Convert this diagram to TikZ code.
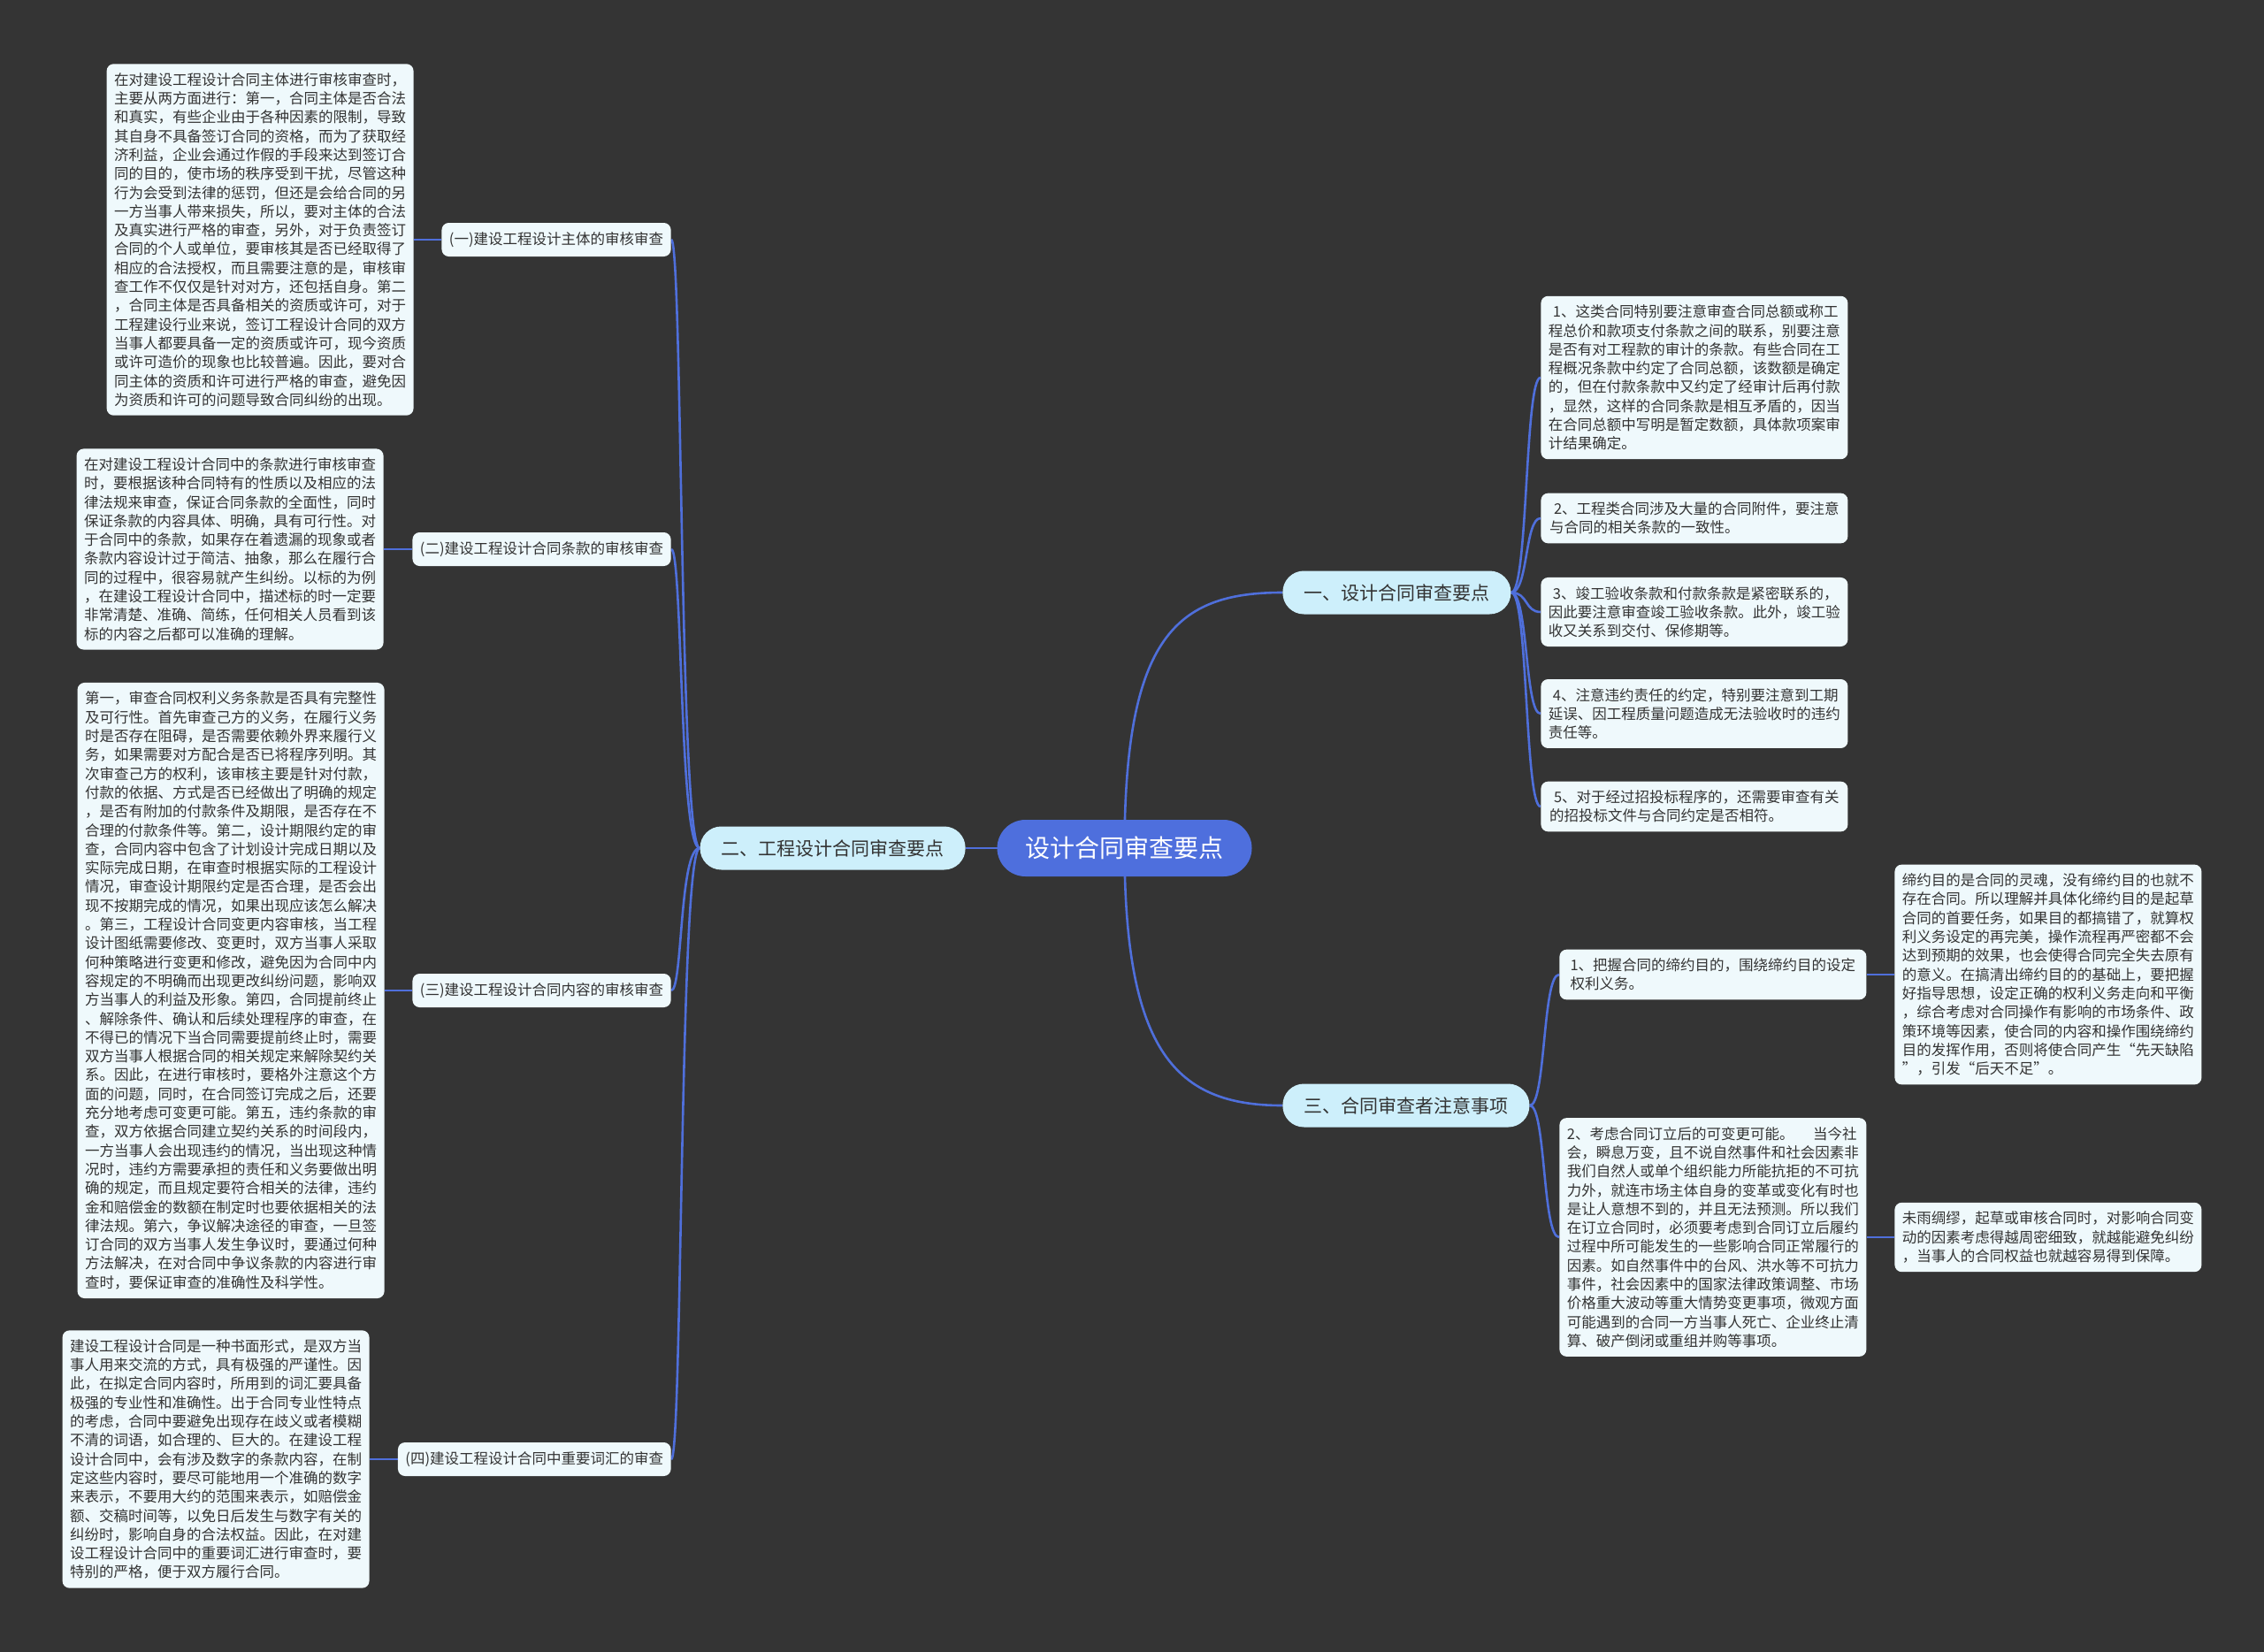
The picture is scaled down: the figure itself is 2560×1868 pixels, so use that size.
\documentclass[tikz,border=0pt]{standalone}
\usepackage{fontspec}
\setmainfont{Noto Sans CJK SC}
\pgfdeclarelayer{bgl}
\pgfdeclarelayer{edgel}
\pgfsetlayers{bgl,edgel,main}
\definecolor{bgc}{HTML}{343434}
\definecolor{rootc}{HTML}{4E6FDD}
\definecolor{lonec}{HTML}{CDEFFB}
\definecolor{boxc}{HTML}{EFF9FC}
\definecolor{txtc}{HTML}{333333}
\definecolor{linec}{HTML}{4F6FDB}
\tikzset{
  leaf/.style={fill=boxc, rounded corners=4pt, align=left, text=txtc,
    font=\fontsize{8.25pt}{10.65pt}\selectfont, inner xsep=4.25pt, inner ysep=5pt,
    minimum width=173.5pt},
  sublabel/.style={fill=boxc, rounded corners=4pt, text=txtc,
    font=\fontsize{8.25pt}{10.65pt}\selectfont, inner xsep=4.25pt, inner ysep=2pt,
    minimum height=19pt},
  lvlone/.style={fill=lonec, rounded corners=12pt, text=txtc,
    font=\fontsize{10.5pt}{12pt}\selectfont, inner xsep=12pt, inner ysep=2pt,
    minimum height=24.5pt},
  rootnode/.style={fill=rootc, rounded corners=16pt, text=white,
    font=\fontsize{14pt}{16pt}\selectfont, inner xsep=16pt, inner ysep=2pt,
    minimum height=32pt},
  link/.style={draw=linec, line width=1.3pt},
}
\begin{document}
\begin{tikzpicture}[x=0.5pt,y=-0.5pt]
\begin{pgfonlayer}{bgl}
\fill[bgc] (0,0) rectangle (2560,1868);
\end{pgfonlayer}
\useasboundingbox (0,0) rectangle (2560,1868);

% root and level one
\node[rootnode] (root) at (1271.5,959) {设计合同审查要点};
\node[lvlone, anchor=east] (n2) at (1092,959) {二、工程设计合同审查要点};
\node[lvlone, anchor=west] (n1) at (1450,670) {一、设计合同审查要点};
\node[lvlone, anchor=west] (n3) at (1450,1250) {三、合同审查者注意事项};

% left labels
\node[sublabel, anchor=east] (a1) at (759,271) {(一)建设工程设计主体的审核审查};
\node[sublabel, anchor=east] (a2) at (759,621) {(二)建设工程设计合同条款的审核审查};
\node[sublabel, anchor=east] (a3) at (759,1120) {(三)建设工程设计合同内容的审核审查};
\node[sublabel, anchor=east] (a4) at (759,1650) {(四)建设工程设计合同中重要词汇的审查};

% left boxes
\node[leaf, anchor=east] (b1) at (468,271) {在对建设工程设计合同主体进行审核审查时，\\主要从两方面进行：第一，合同主体是否合法\\和真实，有些企业由于各种因素的限制，导致\\其自身不具备签订合同的资格，而为了获取经\\济利益，企业会通过作假的手段来达到签订合\\同的目的，使市场的秩序受到干扰，尽管这种\\行为会受到法律的惩罚，但还是会给合同的另\\一方当事人带来损失，所以，要对主体的合法\\及真实进行严格的审查，另外，对于负责签订\\合同的个人或单位，要审核其是否已经取得了\\相应的合法授权，而且需要注意的是，审核审\\查工作不仅仅是针对对方，还包括自身。第二\\，合同主体是否具备相关的资质或许可，对于\\工程建设行业来说，签订工程设计合同的双方\\当事人都要具备一定的资质或许可，现今资质\\或许可造价的现象也比较普遍。因此，要对合\\同主体的资质和许可进行严格的审查，避免因\\为资质和许可的问题导致合同纠纷的出现。};
\node[leaf, anchor=east] (b2) at (434,621) {在对建设工程设计合同中的条款进行审核审查\\时，要根据该种合同特有的性质以及相应的法\\律法规来审查，保证合同条款的全面性，同时\\保证条款的内容具体、明确，具有可行性。对\\于合同中的条款，如果存在着遗漏的现象或者\\条款内容设计过于简洁、抽象，那么在履行合\\同的过程中，很容易就产生纠纷。以标的为例\\，在建设工程设计合同中，描述标的时一定要\\非常清楚、准确、简练，任何相关人员看到该\\标的内容之后都可以准确的理解。};
\node[leaf, anchor=east] (b3) at (435,1120) {第一，审查合同权利义务条款是否具有完整性\\及可行性。首先审查己方的义务，在履行义务\\时是否存在阻碍，是否需要依赖外界来履行义\\务，如果需要对方配合是否已将程序列明。其\\次审查己方的权利，该审核主要是针对付款，\\付款的依据、方式是否已经做出了明确的规定\\，是否有附加的付款条件及期限，是否存在不\\合理的付款条件等。第二，设计期限约定的审\\查，合同内容中包含了计划设计完成日期以及\\实际完成日期，在审查时根据实际的工程设计\\情况，审查设计期限约定是否合理，是否会出\\现不按期完成的情况，如果出现应该怎么解决\\。第三，工程设计合同变更内容审核，当工程\\设计图纸需要修改、变更时，双方当事人采取\\何种策略进行变更和修改，避免因为合同中内\\容规定的不明确而出现更改纠纷问题，影响双\\方当事人的利益及形象。第四，合同提前终止\\、解除条件、确认和后续处理程序的审查，在\\不得已的情况下当合同需要提前终止时，需要\\双方当事人根据合同的相关规定来解除契约关\\系。因此，在进行审核时，要格外注意这个方\\面的问题，同时，在合同签订完成之后，还要\\充分地考虑可变更可能。第五，违约条款的审\\查，双方依据合同建立契约关系的时间段内，\\一方当事人会出现违约的情况，当出现这种情\\况时，违约方需要承担的责任和义务要做出明\\确的规定，而且规定要符合相关的法律，违约\\金和赔偿金的数额在制定时也要依据相关的法\\律法规。第六，争议解决途径的审查，一旦签\\订合同的双方当事人发生争议时，要通过何种\\方法解决，在对合同中争议条款的内容进行审\\查时，要保证审查的准确性及科学性。};
\node[leaf, anchor=east] (b4) at (418,1650) {建设工程设计合同是一种书面形式，是双方当\\事人用来交流的方式，具有极强的严谨性。因\\此，在拟定合同内容时，所用到的词汇要具备\\极强的专业性和准确性。出于合同专业性特点\\的考虑，合同中要避免出现存在歧义或者模糊\\不清的词语，如合理的、巨大的。在建设工程\\设计合同中，会有涉及数字的条款内容，在制\\定这些内容时，要尽可能地用一个准确的数字\\来表示，不要用大约的范围来表示，如赔偿金\\额、交稿时间等，以免日后发生与数字有关的\\纠纷时，影响自身的合法权益。因此，在对建\\设工程设计合同中的重要词汇进行审查时，要\\特别的严格，便于双方履行合同。};

% right boxes under 一
\node[leaf, anchor=west] (r1) at (1742,427) {\hspace*{0.3em}1、这类合同特别要注意审查合同总额或称工\\程总价和款项支付条款之间的联系，别要注意\\是否有对工程款的审计的条款。有些合同在工\\程概况条款中约定了合同总额，该数额是确定\\的，但在付款条款中又约定了经审计后再付款\\，显然，这样的合同条款是相互矛盾的，因当\\在合同总额中写明是暂定数额，具体款项案审\\计结果确定。};
\node[leaf, anchor=west] (r2) at (1742,586) {\hspace*{0.3em}2、工程类合同涉及大量的合同附件，要注意\\与合同的相关条款的一致性。};
\node[leaf, anchor=west] (r3) at (1742,692) {\hspace*{0.3em}3、竣工验收条款和付款条款是紧密联系的，\\因此要注意审查竣工验收条款。此外，竣工验\\收又关系到交付、保修期等。};
\node[leaf, anchor=west] (r4) at (1742,807) {\hspace*{0.3em}4、注意违约责任的约定，特别要注意到工期\\延误、因工程质量问题造成无法验收时的违约\\责任等。};
\node[leaf, anchor=west] (r5) at (1742,912) {\hspace*{0.3em}5、对于经过招投标程序的，还需要审查有关\\的招投标文件与合同约定是否相符。};

% boxes under 三
\node[leaf, anchor=west] (s1) at (1763,1102) {1、把握合同的缔约目的，围绕缔约目的设定\\权利义务。};
\node[leaf, anchor=west] (s2) at (1763,1399) {2、考虑合同订立后的可变更可能。\hspace*{1.3em}当今社\\会，瞬息万变，且不说自然事件和社会因素非\\我们自然人或单个组织能力所能抗拒的不可抗\\力外，就连市场主体自身的变革或变化有时也\\是让人意想不到的，并且无法预测。所以我们\\在订立合同时，必须要考虑到合同订立后履约\\过程中所可能发生的一些影响合同正常履行的\\因素。如自然事件中的台风、洪水等不可抗力\\事件，社会因素中的国家法律政策调整、市场\\价格重大波动等重大情势变更事项，微观方面\\可能遇到的合同一方当事人死亡、企业终止清\\算、破产倒闭或重组并购等事项。};
\node[leaf, anchor=west] (t1) at (2142,1102) {缔约目的是合同的灵魂，没有缔约目的也就不\\存在合同。所以理解并具体化缔约目的是起草\\合同的首要任务，如果目的都搞错了，就算权\\利义务设定的再完美，操作流程再严密都不会\\达到预期的效果，也会使得合同完全失去原有\\的意义。在搞清出缔约目的的基础上，要把握\\好指导思想，设定正确的权利义务走向和平衡\\，综合考虑对合同操作有影响的市场条件、政\\策环境等因素，使合同的内容和操作围绕缔约\\目的发挥作用，否则将使合同产生“先天缺陷\\”，引发“后天不足”。};
\node[leaf, anchor=west] (t2) at (2142,1399) {未雨绸缪，起草或审核合同时，对影响合同变\\动的因素考虑得越周密细致，就越能避免纠纷\\，当事人的合同权益也就越容易得到保障。};

\begin{pgfonlayer}{edgel}
\draw[link] (root.center) -- (n2.east);
\draw[link] (root.center) .. controls (1272,720) and (1330,670) .. (n1.west);
\draw[link] (root.center) .. controls (1272,1190) and (1330,1250) .. (n3.west);
\draw[link] (n2.west) .. controls (768,959) and (772,271) .. (a1.east);
\draw[link] (n2.west) .. controls (768,959) and (772,621) .. (a2.east);
\draw[link] (n2.west) .. controls (768,959) and (772,1120) .. (a3.east);
\draw[link] (n2.west) .. controls (768,959) and (772,1650) .. (a4.east);
\draw[link] (a1.west) -- (b1.east);
\draw[link] (a2.west) -- (b2.east);
\draw[link] (a3.west) -- (b3.east);
\draw[link] (a4.west) -- (b4.east);
\draw[link] (n1.east) .. controls (1728,670) and (1724,427) .. (r1.west);
\draw[link] (n1.east) .. controls (1728,670) and (1724,586) .. (r2.west);
\draw[link] (n1.east) .. controls (1728,670) and (1724,692) .. (r3.west);
\draw[link] (n1.east) .. controls (1728,670) and (1724,807) .. (r4.west);
\draw[link] (n1.east) .. controls (1728,670) and (1724,912) .. (r5.west);
\draw[link] (n3.east) .. controls (1748,1250) and (1744,1102) .. (s1.west);
\draw[link] (n3.east) .. controls (1748,1250) and (1744,1399) .. (s2.west);
\draw[link] (s1.east) -- (t1.west);
\draw[link] (s2.east) -- (t2.west);
\end{pgfonlayer}
\end{tikzpicture}
\end{document}
